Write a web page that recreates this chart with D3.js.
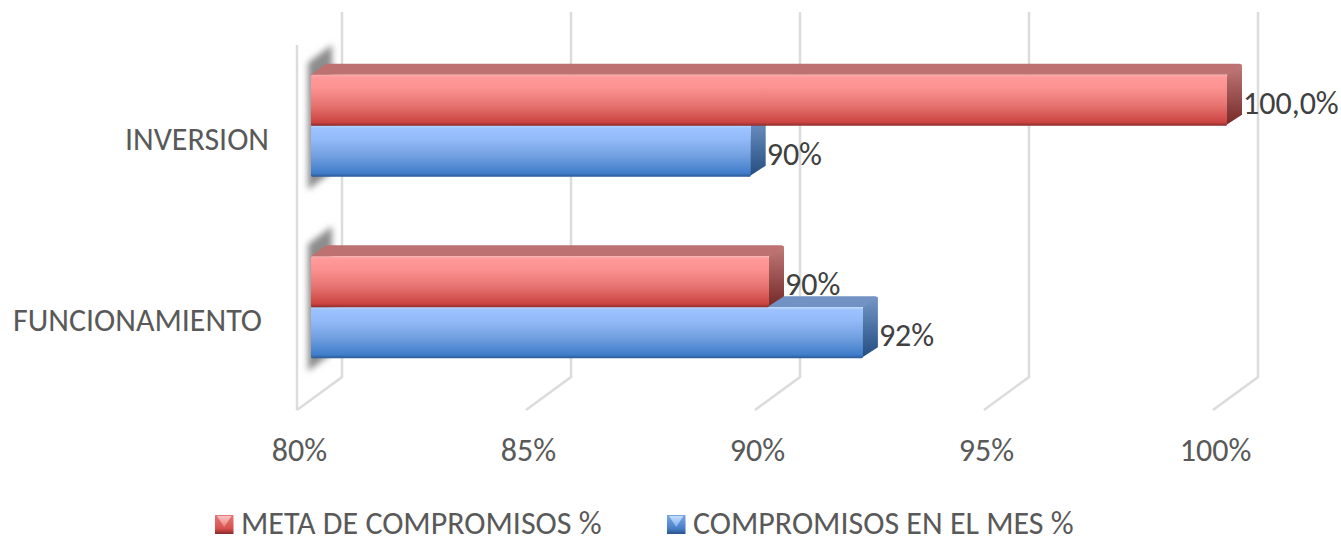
<!DOCTYPE html>
<html>
  <head>
    <meta charset="utf-8">
    <title>Compromisos</title>
    <script src="https://cdnjs.cloudflare.com/ajax/libs/d3/7.8.5/d3.min.js"></script>
    <style>
      html, body { margin: 0; padding: 0; background: #fff; }
      svg { display: block; }
      text { font-family: Carlito, Lato, sans-serif; }
    </style>
  </head>
  <body>
    <div id="main"></div>
    <script>
      var WIDTH=1341, HEIGHT=536, FONT=32;

      var categories = ["INVERSION", "FUNCIONAMIENTO"];
      var seriesNames = ["META DE COMPROMISOS %", "COMPROMISOS EN EL MES %"];
      var metaValues = [100, 90];
      var compromisosValues = [89.6, 92.05];
      var metaLabels = ["100,0%", "90%"];
      var compromisosLabels = ["90%", "92%"];
      var ticks = [80, 85, 90, 95, 100];

      // 3D box offsets
      var WALL_DX=45, WALL_DY=33, BAR_X=14, BAR_DX=15, BAR_DY=11;

      var x = d3.scaleLinear().domain([80, 100]).range([297, 1213]);
      var y = d3.scaleBand().domain(categories).range([35, 398]);
      var inner = d3.scaleBand().domain(seriesNames).range([-51, 51]);
      var FLOOR=410, WALL_TOP=12;

      var svg = d3.select('#main').append('svg')
                  .attr('height', HEIGHT).attr('width', WIDTH);
      var defs = svg.append('defs');

      function gradient(id, stops) {
        var g = defs.append('linearGradient').attr('id', id)
          .attr('x1', 0).attr('y1', 0).attr('x2', 0).attr('y2', 1);
        stops.forEach(function(s) {
          g.append('stop').attr('offset', s[0]).attr('stop-color', s[1]);
        });
      }
      gradient('redFront', [[0, '#fbaaaa'], [0.05, '#ff9a9a'], [0.25, '#fc9291'], [0.6, '#e67370'], [0.93, '#cc4542'], [1, '#8f2c2b']]);
      gradient('blueFront', [[0, '#b8d6ff'], [0.05, '#9cc3ff'], [0.25, '#94bbf9'], [0.6, '#719fe0'], [0.93, '#407dca'], [1, '#2b5a96']]);
      gradient('redSide', [[0, '#c27a7a'], [1, '#742827']]);
      gradient('blueSide', [[0, '#7396c6'], [1, '#234c80']]);
      gradient('redSwatch', [[0, '#e27a78'], [0.7, '#d9534f'], [1, '#8a2a29']]);
      gradient('blueSwatch', [[0, '#7aa6e6'], [0.7, '#4a80c8'], [1, '#27548c']]);
      gradient('redGlow', [[0, '#ffc2c2'], [1, '#e87f7c']]);
      gradient('blueGlow', [[0, '#c4deff'], [1, '#80aeea']]);
      defs.append('filter').attr('id', 'blur')
        .attr('x', '-60%').attr('y', '-20%').attr('width', '220%').attr('height', '140%')
        .append('feGaussianBlur').attr('stdDeviation', 3);
      defs.append('filter').attr('id', 'soft')
        .append('feGaussianBlur').attr('stdDeviation', 0.5);

      var styles = {};
      styles[seriesNames[0]] = { front: 'url(#redFront)', top: '#bd7170', side: 'url(#redSide)', swatch: 'url(#redSwatch)', glow: 'url(#redGlow)' };
      styles[seriesNames[1]] = { front: 'url(#blueFront)', top: '#7192c2', side: 'url(#blueSide)', swatch: 'url(#blueSwatch)', glow: 'url(#blueGlow)' };

      // grid on the back wall and the floor
      var grid = svg.append('g').attr('fill', 'none').attr('stroke', '#dcdcdc').attr('stroke-width', 2.5);
      grid.selectAll('path').data(ticks).enter().append('path')
        .attr('d', function(t) {
          return 'M' + (x(t) + WALL_DX) + ',' + WALL_TOP +
                 'V' + (FLOOR - WALL_DY) +
                 'L' + x(t) + ',' + FLOOR;
        });
      grid.append('path').attr('d', 'M' + x(80) + ',' + (WALL_TOP + WALL_DY) + 'V' + FLOOR);

      // soft shadow the bars drop on the side wall
      var shadow = svg.append('g').attr('filter', 'url(#blur)').attr('fill', '#8c8c8c');
      categories.forEach(function(c) {
        var top = y(c) + y.bandwidth() / 2 + inner.range()[0];
        var bottom = y(c) + y.bandwidth() / 2 + inner.range()[1];
        shadow.append('path').attr('d',
          'M' + (x(80) + 11) + ',' + (top - 12) +
          'L' + (x(80) + 35) + ',' + (top - 30) +
          'V' + (bottom - 5) +
          'L' + (x(80) + 11) + ',' + (bottom + 13) + 'Z');
      });

      function drawBar(g, cat, name, value) {
        var s = styles[name];
        var x0 = x(80) + BAR_X, x1 = x(value) + BAR_X;
        var center = y(cat) + y.bandwidth() / 2;
        var y0 = center + inner(name), h = inner.bandwidth();
        g.append('path').attr('fill', s.top).attr('d',
          'M' + x0 + ',' + y0 + 'L' + (x0 + BAR_DX) + ',' + (y0 - BAR_DY) +
          'H' + (x1 + BAR_DX - 3) + 'Q' + (x1 + BAR_DX) + ',' + (y0 - BAR_DY) + ' ' + (x1 + BAR_DX) + ',' + (y0 - BAR_DY + 3) +
          'L' + x1 + ',' + y0 + 'Z');
        g.append('path').attr('fill', s.side).attr('d',
          'M' + x1 + ',' + y0 + 'L' + (x1 + BAR_DX - 1) + ',' + (y0 - BAR_DY + 1) +
          'Q' + (x1 + BAR_DX) + ',' + (y0 - BAR_DY) + ' ' + (x1 + BAR_DX) + ',' + (y0 - BAR_DY + 3) +
          'V' + (y0 + h - BAR_DY) + 'L' + (x1 - 2) + ',' + (y0 + h) + 'Z');
        g.append('rect').attr('x', x0).attr('y', y0).attr('rx', 1.5)
          .attr('width', x1 - x0).attr('height', h).attr('fill', s.front);
      }

      // blue goes first: the red front sits on top of the blue top face
      var bars = svg.append('g');
      categories.forEach(function(c, i) {
        drawBar(bars, c, seriesNames[1], compromisosValues[i]);
        drawBar(bars, c, seriesNames[0], metaValues[i]);
      });

      // data labels
      var labels = svg.append('g').attr('fill', '#404040').attr('font-size', FONT);
      categories.forEach(function(c, i) {
        var center = y(c) + y.bandwidth() / 2;
        labels.append('text')
          .attr('x', x(metaValues[i]) + BAR_X + BAR_DX + 1)
          .attr('y', center + inner(seriesNames[0]) + 39)
          .text(metaLabels[i]);
        labels.append('text')
          .attr('x', x(compromisosValues[i]) + BAR_X + BAR_DX + 1)
          .attr('y', center + inner(seriesNames[1]) + 39)
          .text(compromisosLabels[i]);
      });

      // value axis
      var axis = d3.axisBottom(x).tickValues(ticks).tickSize(0)
        .tickFormat(function(t) { return t + '%'; });
      var axisG = svg.append('g').attr('transform', 'translate(2,435)').call(axis);
      axisG.select('.domain').remove();
      axisG.selectAll('text').attr('fill', '#595959').attr('font-size', FONT)
        .style('font-family', 'Carlito, Lato, sans-serif');

      // category labels
      var catEnd = [269, 262];
      svg.append('g').attr('fill', '#595959').attr('font-size', FONT).attr('text-anchor', 'end')
        .selectAll('text').data(categories).enter().append('text')
        .attr('x', function(c, i) { return catEnd[i]; })
        .attr('y', function(c) { return y(c) + y.bandwidth() / 2 + 24; })
        .text(function(c) { return c; });

      // legend
      var legendX = [215, 667];
      var legend = svg.append('g').selectAll('g').data(seriesNames).enter().append('g')
        .attr('transform', function(d, i) { return 'translate(' + legendX[i] + ',0)'; });
      legend.append('rect').attr('y', 515).attr('width', 18.5).attr('height', 19)
        .attr('fill', function(d) { return styles[d].swatch; });
      legend.append('path').attr('d', 'M2,516L16.5,516L9.25,527Z')
        .attr('filter', 'url(#soft)')
        .attr('fill', function(d) { return styles[d].glow; });
      legend.append('text').attr('x', 26).attr('y', 534)
        .attr('fill', '#595959').attr('font-size', FONT)
        .text(function(d) { return d; });
    </script>
  </body>
</html>
